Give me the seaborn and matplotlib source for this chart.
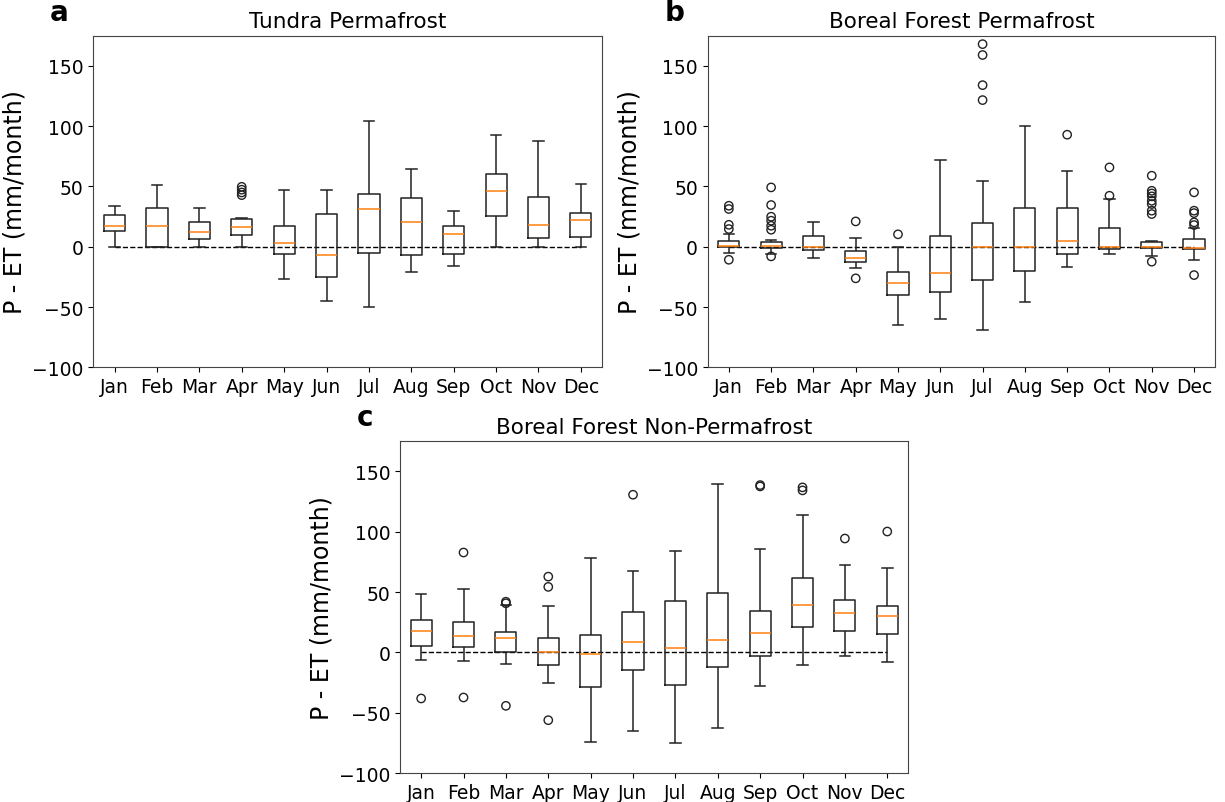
import numpy as np
import pandas as pd
import matplotlib
matplotlib.use('Agg')
import matplotlib.pyplot as plt
import seaborn as sns

months = ['Jan', 'Feb', 'Mar', 'Apr', 'May', 'Jun', 'Jul', 'Aug', 'Sep', 'Oct', 'Nov', 'Dec']

# Tundra permafrost: whisker low, Q1, median, Q3, whisker high (mm/month)
tundra_lo = [0, 0, 0, 0, -26.8, -45.3, -50.3, -20.7, -16.3, 0, 0, 0]
tundra_q1 = [12.7, 0, 6.1, 10, -6.1, -24.9, -5.3, -6.6, -6.4, 25.2, 7.2, 8.3]
tundra_med = [17.1, 17.4, 12.4, 16.3, 3, -7.2, 31, 20.2, 10.2, 46.4, 18, 22.4]
tundra_q3 = [26.3, 32.3, 20.5, 22.7, 17.4, 26.8, 43.9, 40.1, 17.4, 60, 41.2, 27.9]
tundra_hi = [34, 50.9, 32.3, 24, 47.3, 47, 104.2, 64.7, 29.3, 92.6, 87.9, 52.2]
tundra_out_month = ['Apr', 'Apr', 'Apr', 'Apr']
tundra_out_val = [49.7, 47.3, 45, 42.8]

# Boreal forest permafrost
bfp_lo = [-5.2, -6, -9.6, -17.7, -64.7, -60, -69, -45.6, -16.6, -6.3, -8, -11]
bfp_q1 = [-0.3, -0.8, -2.7, -13, -40, -37.3, -27.6, -19.9, -6, -1.9, -1.3, -1.9]
bfp_med = [0.3, 0.3, -0.5, -9.4, -30.4, -22, -0.5, 0, 4.4, 0, -0.5, -1.1]
bfp_q3 = [4.7, 4.1, 8.6, -3.8, -20.7, 8.6, 19.4, 32.4, 31.8, 15.8, 4.1, 6.4]
bfp_hi = [10.5, 5.8, 20.7, 7, 0, 71.6, 54.2, 100, 62.8, 39.5, 5, 15.2]
bfp_out_month = (['Jan'] * 5 + ['Feb'] * 7 + ['Apr'] * 2 + ['May'] + ['Jul'] * 4
                 + ['Sep'] + ['Oct'] * 2 + ['Nov'] * 9 + ['Dec'] * 6)
bfp_out_val = [34, 31.3, 18.2, 14.7, -10.8,
               49.2, 34.6, 24.9, 21.6, 17.4, 14.1, -8,
               21, -26.2,
               10.3,
               168, 159, 134, 121.6,
               92.9,
               65.8, 42.3,
               58.9, 46.4, 44.2, 41.8, 38.1, 35.4, 29.9, 27.1, -12.4,
               45.1, 29.9, 27.9, 20.2, 18, -23.5]

# Boreal forest non-permafrost
bfn_lo = [-6.4, -7.5, -9.7, -25.2, -74.2, -64.8, -74.8, -62.3, -28, -10.5, -3, -8]
bfn_q1 = [5.5, 4.2, 0.3, -10.5, -29.1, -14.9, -27.4, -11.9, -3, 20.8, 17.7, 15.5]
bfn_med = [17.4, 13.6, 11.6, 0, -1.4, 8.6, 3.3, 10.2, 15.8, 39.6, 32.4, 30.5]
bfn_q3 = [26.9, 24.9, 17.2, 11.9, 14.4, 33.8, 42.9, 49.3, 34.3, 61.5, 43.7, 38.2]
bfn_hi = [48.4, 52.9, 39.3, 38.5, 78, 67.3, 83.9, 139.5, 85.5, 114.3, 72.8, 70]
bfn_out_month = ['Jan', 'Feb', 'Feb', 'Mar', 'Mar', 'Mar', 'Apr', 'Apr', 'Apr',
                 'Jun', 'Sep', 'Sep', 'Oct', 'Oct', 'Nov', 'Dec']
bfn_out_val = [-38.2, 82.8, -37.4, 42, 40.7, -44.3, 62.8, 54.3, -56.2,
               130.7, 138.7, 137.6, 136.8, 134.3, 94.4, 100.2]


def box_frame(lo, q1, med, q3, hi):
    # five values per month -> quartiles come out exactly as read
    rows = []
    for i, m in enumerate(months):
        for v in (lo[i], q1[i], med[i], q3[i], hi[i]):
            rows.append((m, v))
    return pd.DataFrame(rows, columns=['Month', 'Value'])


def draw_panel(ax, stats, out_month, out_val, title, letter):
    df = box_frame(*stats)
    sns.boxplot(data=df, x='Month', y='Value', order=months, ax=ax,
                fill=False, color='#222222', width=0.5, linewidth=1.1,
                whis=(0, 100), showfliers=False,
                medianprops={'color': '#ff7f0e', 'linewidth': 1.1})
    n_before = len(ax.collections)
    sns.stripplot(x=out_month, y=out_val, order=months, ax=ax, jitter=False,
                  color='#222222', size=6, linewidth=1, edgecolor='#222222')
    # open circles like matplotlib fliers
    for coll in ax.collections[n_before:]:
        coll.set_facecolor('none')
    ax.hlines(0, 0, len(months) - 1, colors='black', linestyles='--',
              linewidth=1, zorder=0.5)
    ax.set_xlim(-0.5, len(months) - 0.5)
    ax.set_ylim(-100, 175)
    ax.set_yticks([-100, -50, 0, 50, 100, 150])
    ax.set_xlabel('')
    ax.set_ylabel('P - ET (mm/month)', fontsize=17)
    ax.set_title(title, fontsize=15.5)
    ax.tick_params(labelsize=13.5)
    for s in ax.spines.values():
        s.set_edgecolor('#444444')
    ax.text(-0.085, 1.03, letter, transform=ax.transAxes, fontsize=20,
            fontweight='bold', va='bottom', ha='left')


fig = plt.figure(figsize=(12.25, 8.03), dpi=100)
ax_a = fig.add_axes([0.0762, 0.5413, 0.4153, 0.4130])
ax_b = fig.add_axes([0.5777, 0.5413, 0.4143, 0.4130])
ax_c = fig.add_axes([0.3265, 0.0361, 0.4151, 0.4131])

draw_panel(ax_a, (tundra_lo, tundra_q1, tundra_med, tundra_q3, tundra_hi),
           tundra_out_month, tundra_out_val, 'Tundra Permafrost', 'a')
draw_panel(ax_b, (bfp_lo, bfp_q1, bfp_med, bfp_q3, bfp_hi),
           bfp_out_month, bfp_out_val, 'Boreal Forest Permafrost', 'b')
draw_panel(ax_c, (bfn_lo, bfn_q1, bfn_med, bfn_q3, bfn_hi),
           bfn_out_month, bfn_out_val, 'Boreal Forest Non-Permafrost', 'c')

fig.savefig('out.png', dpi=100)
